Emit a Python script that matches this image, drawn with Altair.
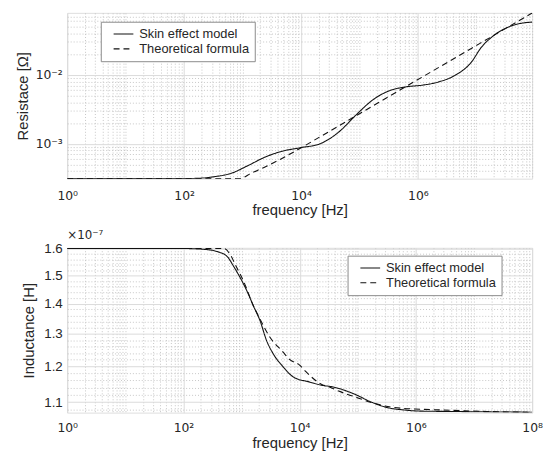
import altair as alt
import pandas as pd

SERIES = ["Skin effect model", "Theoretical formula"]

# ---- Resistance panel ----
r_skin_freq = [1, 91, 200, 333, 637, 1220, 2330, 4460, 9680, 2.11e4, 4.59e4, 8.79e4,
               1.68e5, 3.21e5, 6.15e5, 1.17e6, 2.24e6, 4.30e6, 8.20e6, 1.21e7,
               1.79e7, 3.89e7, 6.55e7, 9.0e7]
r_skin_val = [3.13e-4, 3.13e-4, 3.18e-4, 3.34e-4, 3.73e-4, 4.80e-4, 6.31e-4, 7.69e-4,
              8.77e-4, 1.0e-3, 1.52e-3, 2.63e-3, 4.31e-3, 5.85e-3, 6.67e-3, 7.06e-3,
              7.87e-3, 9.8e-3, 1.52e-2, 2.49e-2, 3.46e-2, 5.08e-2, 5.66e-2, 5.80e-2]

r_theo_freq = [1, 900, 1400, 2330, 4460, 9680, 2.11e4, 4.59e4, 8.79e4, 1.68e5,
               6.15e5, 2.24e6, 8.20e6, 1.79e7, 3.89e7, 9.0e7]
r_theo_val = [3.13e-4, 3.13e-4, 3.75e-4, 4.54e-4, 5.98e-4, 8.59e-4, 1.26e-3, 1.85e-3,
              2.56e-3, 3.52e-3, 6.70e-3, 1.27e-2, 2.41e-2, 3.54e-2, 5.20e-2, 7.87e-2]

# ---- Inductance panel (x 1e-7 H) ----
l_skin_freq = [1, 104, 250, 384, 566, 733, 951, 1236, 1600, 2075, 2690, 3480, 5140,
               7590, 9860, 1.28e4, 2.44e4, 3.61e4, 8.97e4, 1.71e5, 3.29e5, 6.31e5,
               1.2e6, 4.43e6, 1.62e7, 1.0e8]
l_skin_val = [1.602, 1.602, 1.598, 1.590, 1.571, 1.533, 1.491, 1.444, 1.392, 1.343,
              1.279, 1.239, 1.200, 1.171, 1.162, 1.158, 1.146, 1.142, 1.121, 1.100,
              1.085, 1.079, 1.076, 1.075, 1.074, 1.073]

l_theo_freq = [1, 497, 644, 783, 1081, 1600, 2075, 3060, 5140, 6680, 9860, 1.28e4,
               2.44e4, 3.18e4, 4.69e4, 8.97e4, 1.71e5, 3.29e5, 6.31e5, 1.2e6, 4.43e6,
               1.62e7, 1.0e8]
l_theo_val = [1.602, 1.602, 1.577, 1.539, 1.479, 1.392, 1.348, 1.290, 1.244, 1.221,
              1.205, 1.185, 1.148, 1.142, 1.130, 1.114, 1.099, 1.088, 1.083, 1.081,
              1.078, 1.075, 1.073]

# ---- tick / label definitions ----
x_ticks = [float(m * 10 ** e) for e in range(0, 8) for m in range(1, 10)] + [1e8]
r_ticks = [round(m * 1e-4, 6) for m in range(4, 10)] + \
          [round(m * 1e-3, 6) for m in range(1, 10)] + \
          [round(m * 1e-2, 6) for m in range(1, 8)]
l_ticks = [round(1.08 + 0.02 * i, 2) for i in range(27)]

FONT = "Liberation Sans"
SUPFONT = "DejaVu Sans"
TXT = "#262626"
MAJ = "#dadada"
MIN = "#c6c6c6"
W = 471


def frame(fa, va, fb, vb):
    a = pd.DataFrame({"freq": fa, "value": va, "series": SERIES[0]})
    b = pd.DataFrame({"freq": fb, "value": vb, "series": SERIES[1]})
    return pd.concat([a, b], ignore_index=True)


def cond(test, yes, no):
    return {"condition": {"test": test, "value": yes}, "value": no}


x_test = "indexof([1,100,10000,1000000,100000000], datum.value) >= 0"
x_label = ("datum.value == 1 ? '10⁰' : datum.value == 100 ? '10²' : "
           "datum.value == 10000 ? '10⁴' : datum.value == 1000000 ? '10⁶' : "
           "datum.value == 100000000 ? '10⁸' : ''")


def x_axis(values, label_pad, title_pad):
    return alt.Axis(
        values=values, labelExpr=x_label, title="frequency [Hz]",
        ticks=False, domain=False, labelOverlap=False, labelFlush=False,
        gridDash=cond(x_test, [], [1, 2]),
        gridColor=cond(x_test, MAJ, MIN),
        labelFontSize=cond(x_test, 12.5, 0),
        titleFontSize=15, titleFontWeight="normal",
        labelPadding=label_pad, titlePadding=title_pad, labelColor=TXT, titleColor=TXT,
        labelFont=SUPFONT, titleFont=FONT,
    )


r_test = "datum.value == 0.001 || datum.value == 0.01"
r_axis = alt.Axis(
    values=r_ticks, title="Resistace [Ω]",
    labelExpr="datum.value == 0.001 ? '10⁻³' : datum.value == 0.01 ? '10⁻²' : ''",
    ticks=False, domain=False, labelOverlap=False,
    gridDash=cond(r_test, [], [1, 2]),
    gridColor=cond(r_test, MAJ, MIN),
    labelFontSize=cond(r_test, 12.5, 0),
    titleFontSize=15, titleFontWeight="normal",
    labelPadding=5, titlePadding=5, labelColor=TXT, titleColor=TXT,
    labelFont=SUPFONT, titleFont=FONT,
)

l_test = "abs(datum.value * 10 - round(datum.value * 10)) < 0.000001"
l_axis = alt.Axis(
    values=l_ticks, title="Inductance [H]",
    labelExpr="(" + l_test + ") ? format(datum.value, '.1f') : ''",
    ticks=False, domain=False, labelOverlap=False,
    gridDash=cond(l_test, [], [1, 2]),
    gridColor=cond(l_test, MAJ, MIN),
    labelFontSize=cond(l_test, 13.5, 0),
    titleFontSize=15, titleFontWeight="normal",
    labelPadding=5, titlePadding=7, labelColor=TXT, titleColor=TXT,
    labelFont=FONT, titleFont=FONT,
)


def dash_enc(lx, ly):
    return alt.StrokeDash(
        "series:N",
        scale=alt.Scale(domain=SERIES, range=[[1, 0], [6, 4]]),
        legend=alt.Legend(
            title=None, orient="none", legendX=lx, legendY=ly,
            symbolType="stroke", symbolSize=400, symbolStrokeWidth=1.1,
            symbolStrokeColor="#111111", labelFontSize=13, labelFont=FONT,
            labelColor=TXT, fillColor="white", strokeColor="#8a8a8a",
            padding=5, rowPadding=0, clipHeight=15, labelOffset=5, symbolOffset=7,
        ),
    )


top = alt.Chart(frame(r_skin_freq, r_skin_val, r_theo_freq, r_theo_val)).mark_line(
    color="#111111", strokeWidth=1.1, interpolate="monotone", clip=True
).encode(
    x=alt.X("freq:Q", scale=alt.Scale(type="log", domain=[1, 9e7], nice=False),
            axis=x_axis([v for v in x_ticks if v <= 9e7], 11, 1)),
    y=alt.Y("value:Q", scale=alt.Scale(type="log", domain=[3.12e-4, 7.9e-2], nice=False),
            axis=r_axis),
    strokeDash=dash_enc(34, 9),
    detail="series:N",
).properties(width=W, height=168)

bottom = alt.Chart(frame(l_skin_freq, l_skin_val, l_theo_freq, l_theo_val)).mark_line(
    color="#111111", strokeWidth=1.1, interpolate="monotone", clip=True
).encode(
    x=alt.X("freq:Q", scale=alt.Scale(type="log", domain=[1, 1e8], nice=False),
            axis=x_axis(x_ticks, 9, 2)),
    y=alt.Y("value:Q", scale=alt.Scale(type="log", domain=[1.072, 1.605], nice=False),
            axis=l_axis),
    strokeDash=dash_enc(284, 8),
    detail="series:N",
).properties(
    width=W, height=167,
    title=alt.TitleParams("×10⁻⁷", anchor="start", frame="group", fontSize=12,
                          fontWeight="normal", font=SUPFONT, color=TXT, offset=0),
)

chart = alt.vconcat(top, bottom, spacing=10).resolve_scale(
    x="independent", y="independent", strokeDash="independent"
).resolve_legend(strokeDash="independent").properties(
    padding={"left": 6, "top": 1, "right": 0, "bottom": 0}
).configure_view(stroke="#262626", strokeWidth=1).configure(background="white")

chart.save("out.html", embed_options={"renderer": "svg", "actions": False})
